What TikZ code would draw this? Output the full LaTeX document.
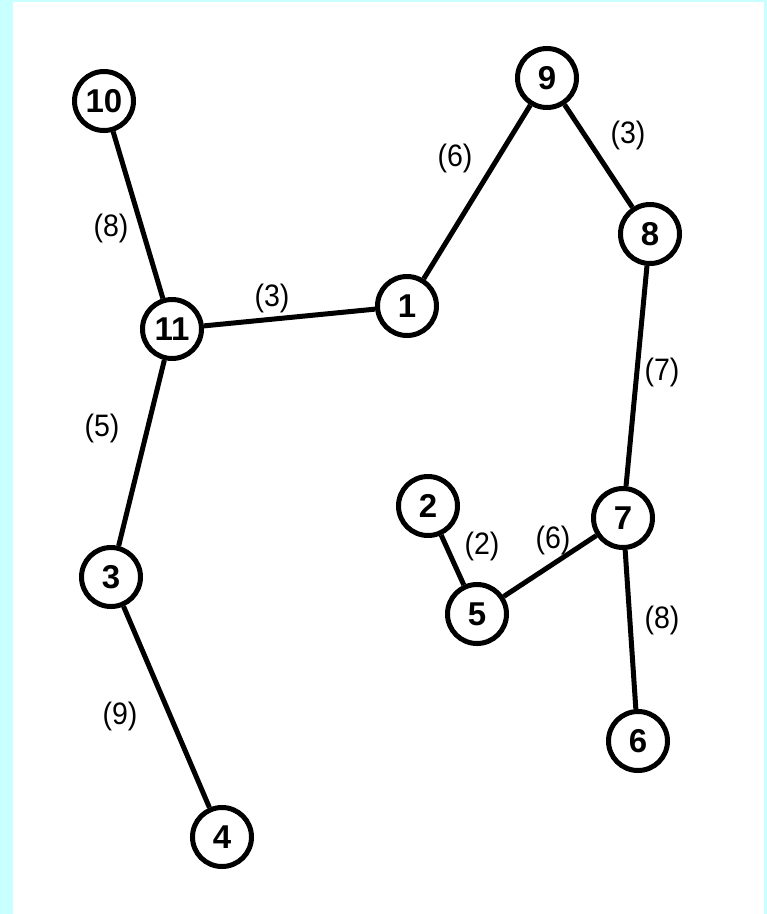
\documentclass[tikz,border=0pt]{standalone}
\usepackage{fontspec}
\setmainfont{Liberation Sans}
\definecolor{bordercyan}{RGB}{200,255,255}
\begin{document}
\begin{tikzpicture}[x=1pt,y=-1pt,
  vert/.style={circle,draw=black,line width=5pt,fill=white,minimum size=59pt,inner sep=0pt,font=\fontsize{33}{34}\selectfont\bfseries},
  edge/.style={line width=5pt},
  wlabel/.style={font=\fontsize{31}{32}\selectfont,inner sep=0pt,xscale=0.92}]
\fill[bordercyan] (0,0) rectangle (767,914);
\fill[white] (13,2) rectangle (764,914);
\useasboundingbox (0,0) rectangle (767,914);
\node[vert] (n10) at (104,101) {10};
\node[vert] (n9) at (547,78) {9};
\node[vert] (n8) at (650,234) {8};
\node[vert] (n1) at (407,306) {1};
\node[vert] (n11) at (172,329) {11};
\node[vert] (n2) at (428,506) {2};
\node[vert] (n7) at (623,518) {7};
\node[vert] (n3) at (111,577) {3};
\node[vert] (n5) at (477,614) {5};
\node[vert] (n6) at (638,741) {6};
\node[vert] (n4) at (222,837) {4};
\draw[edge] (n10) -- (n11);
\draw[edge] (n11) -- (n1);
\draw[edge] (n1) -- (n9);
\draw[edge] (n9) -- (n8);
\draw[edge] (n8) -- (n7);
\draw[edge] (n11) -- (n3);
\draw[edge] (n3) -- (n4);
\draw[edge] (n2) -- (n5);
\draw[edge] (n5) -- (n7);
\draw[edge] (n7) -- (n6);
\node[wlabel] (l1) at (111,228) {(8)};
\node[wlabel] (l2) at (272,298) {(3)};
\node[wlabel] (l3) at (455,158) {(6)};
\node[wlabel] (l4) at (628,135) {(3)};
\node[wlabel] (l5) at (662,372) {(7)};
\node[wlabel] (l6) at (102,428) {(5)};
\node[wlabel] (l7) at (120,716) {(9)};
\node[wlabel] (l8) at (482,546) {(2)};
\node[wlabel] (l9) at (553,540) {(6)};
\node[wlabel] (l10) at (662,620) {(8)};
\end{tikzpicture}
\end{document}
